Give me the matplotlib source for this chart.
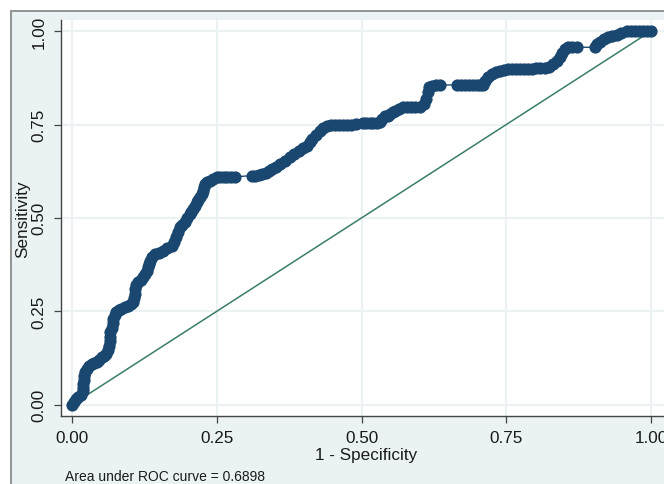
import matplotlib
matplotlib.use("Agg")
import matplotlib.pyplot as plt
from matplotlib.patches import Rectangle

plt.rcParams['font.family'] = ['Liberation Sans', 'DejaVu Sans']

# ROC curve points (1 - specificity, sensitivity)
fpr = [0.000, 0.003, 0.006, 0.010, 0.015, 0.018, 0.019, 0.019, 0.020, 0.020,
       0.022, 0.025, 0.029, 0.034, 0.038, 0.042, 0.047, 0.051, 0.055, 0.059,
       0.062, 0.064, 0.065, 0.065, 0.065, 0.068, 0.070, 0.071, 0.073, 0.076,
       0.080, 0.085, 0.091, 0.097, 0.101, 0.105, 0.107, 0.108, 0.108, 0.110,
       0.114, 0.119, 0.123, 0.126, 0.129, 0.131, 0.133, 0.134, 0.138, 0.143,
       0.150, 0.157, 0.164, 0.172, 0.176, 0.180, 0.183, 0.186, 0.190, 0.195,
       0.199, 0.203, 0.206, 0.209, 0.212, 0.215, 0.218, 0.221, 0.224, 0.226,
       0.228, 0.229, 0.233, 0.238, 0.244, 0.250, 0.256, 0.262, 0.267, 0.274,
       0.281,
       0.310, 0.316, 0.322, 0.328, 0.334, 0.340, 0.345, 0.352, 0.359, 0.367,
       0.376, 0.383, 0.391, 0.398, 0.405, 0.410, 0.414, 0.421, 0.428, 0.434,
       0.440, 0.447, 0.454, 0.461, 0.468, 0.475, 0.482, 0.491, 0.502, 0.508,
       0.514, 0.520, 0.526, 0.532, 0.536, 0.540, 0.545, 0.549, 0.554, 0.558,
       0.565, 0.572, 0.579, 0.586, 0.593, 0.601, 0.607, 0.612, 0.614, 0.617,
       0.621, 0.628, 0.635,
       0.664, 0.671, 0.678, 0.685, 0.692, 0.699, 0.705, 0.710, 0.714, 0.719,
       0.725, 0.732, 0.739, 0.746, 0.753, 0.760, 0.767, 0.774, 0.781, 0.788,
       0.795, 0.802, 0.809, 0.816, 0.823, 0.831, 0.837, 0.843, 0.847, 0.851,
       0.857, 0.864, 0.872,
       0.903, 0.907, 0.912, 0.919, 0.926, 0.933, 0.941, 0.949, 0.958, 0.965,
       0.972, 0.979, 0.986, 0.993, 1.000]
tpr = [0.000, 0.008, 0.015, 0.019, 0.025, 0.035, 0.045, 0.055, 0.065, 0.077,
       0.086, 0.095, 0.102, 0.108, 0.111, 0.113, 0.119, 0.126, 0.130, 0.135,
       0.145, 0.158, 0.170, 0.182, 0.193, 0.205, 0.218, 0.229, 0.240, 0.248,
       0.252, 0.256, 0.260, 0.265, 0.270, 0.274, 0.285, 0.297, 0.309, 0.320,
       0.328, 0.334, 0.341, 0.350, 0.358, 0.367, 0.376, 0.385, 0.394, 0.403,
       0.407, 0.412, 0.418, 0.425, 0.436, 0.448, 0.461, 0.475, 0.482, 0.488,
       0.499, 0.510, 0.517, 0.524, 0.533, 0.542, 0.549, 0.555, 0.564, 0.573,
       0.582, 0.591, 0.596, 0.600, 0.605, 0.609, 0.610, 0.610, 0.610, 0.610,
       0.610,
       0.613, 0.613, 0.614, 0.617, 0.621, 0.626, 0.631, 0.637, 0.644, 0.653,
       0.662, 0.671, 0.680, 0.687, 0.693, 0.702, 0.711, 0.722, 0.733, 0.740,
       0.747, 0.749, 0.750, 0.750, 0.750, 0.750, 0.750, 0.751, 0.755, 0.755,
       0.755, 0.755, 0.755, 0.756, 0.765, 0.774, 0.774, 0.778, 0.783, 0.787,
       0.792, 0.797, 0.798, 0.798, 0.798, 0.798, 0.805, 0.818, 0.836, 0.850,
       0.854, 0.855, 0.856,
       0.856, 0.856, 0.856, 0.856, 0.856, 0.856, 0.856, 0.857, 0.866, 0.877,
       0.885, 0.891, 0.894, 0.896, 0.898, 0.899, 0.899, 0.899, 0.899, 0.900,
       0.900, 0.901, 0.901, 0.902, 0.904, 0.912, 0.921, 0.931, 0.942, 0.951,
       0.957, 0.957, 0.957,
       0.957, 0.966, 0.972, 0.978, 0.984, 0.987, 0.990, 0.995, 1.000, 1.000,
       1.000, 1.000, 1.000, 1.000, 1.000]

ref_x = [0.0, 1.0]
ref_y = [0.0, 1.0]
ticks = [0.0, 0.25, 0.5, 0.75, 1.0]
tick_labels = ["0.00", "0.25", "0.50", "0.75", "1.00"]
auc_text = "Area under ROC curve = 0.6898"

W, H = 664, 485
fig = plt.figure(figsize=(W / 100, H / 100), dpi=100)
fig.patch.set_facecolor("white")

# Stata graph region background with border
bg = Rectangle((11 / W, -0.1), 1.2, 1 - 12 / H + 0.1, transform=fig.transFigure,
               facecolor="#EAF2F3", edgecolor="#8a8a8a", linewidth=1.3, zorder=-10)
fig.patches.append(bg)

left, right, top, bottom = 61, 672, 21, 416.7
ax = fig.add_axes([left / W, (H - bottom) / H, (right - left) / W, (bottom - top) / H])
ax.set_zorder(1)
ax.set_facecolor("white")
ax.set_xlim(-0.0195, 1.0363)
ax.set_ylim(-0.030, 1.030)

ax.set_xticks(ticks)
ax.set_xticklabels(tick_labels)
ax.set_yticks(ticks)
ax.set_yticklabels(tick_labels, rotation=90, va="center")
ax.grid(True, color="#EAF2F3", linewidth=1.5)
ax.set_axisbelow(True)

for s in ["top", "right"]:
    ax.spines[s].set_visible(False)
for s in ["left", "bottom"]:
    ax.spines[s].set_color("#444444")
    ax.spines[s].set_linewidth(1.0)

ax.tick_params(axis="both", length=5, width=0.9, color="#444444",
               labelsize=12.3, labelcolor="#1a1a1a", pad=5.5)

ax.plot(ref_x, ref_y, color="#3a7d68", linewidth=1.1, zorder=2)
ax.plot(fpr, tpr, color="#1a476f", linewidth=1.0, marker="o", markersize=8.8,
        markeredgewidth=0, zorder=3)

ax.set_xlabel("1 - Specificity", fontsize=12.3, color="#1a1a1a", labelpad=1)
ax.set_ylabel("Sensitivity", fontsize=12.3, color="#1a1a1a", labelpad=1)

fig.text(65 / W, 1 - 476.7 / H, auc_text, fontsize=10, color="#1a1a1a",
         ha="left", va="center")

fig.savefig("out.png", dpi=100, facecolor=fig.get_facecolor())
